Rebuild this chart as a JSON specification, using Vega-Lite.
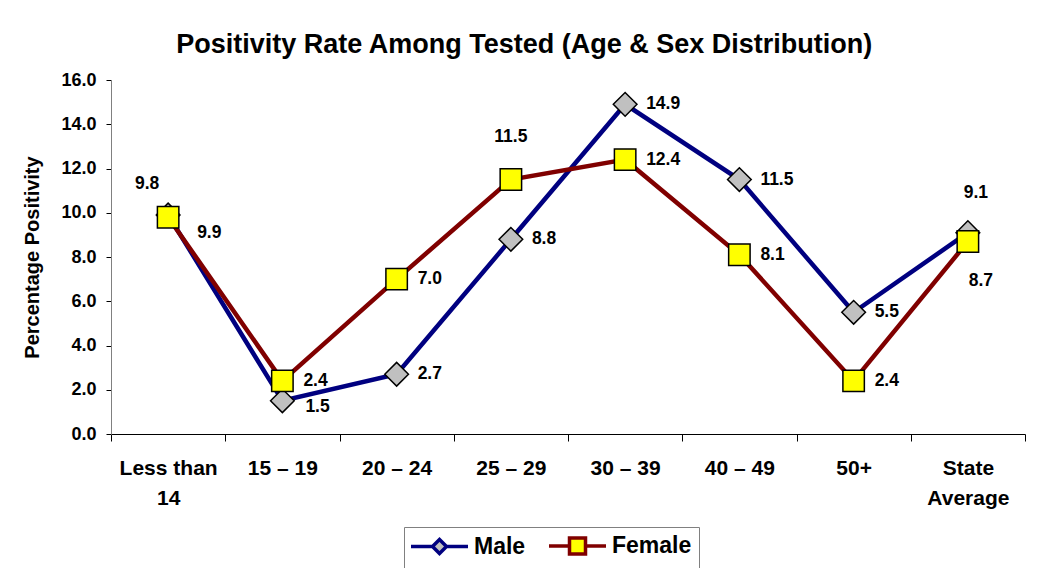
{
  "$schema": "https://vega.github.io/schema/vega-lite/v6.json",
  "width": 914,
  "height": 354,
  "padding": {"left": 22, "top": 31, "right": 10, "bottom": 0},
  "background": "white",
  "title": {"text": "Positivity Rate Among Tested (Age & Sex Distribution)", "font": "Liberation Sans", "fontSize": 27, "fontWeight": "bold", "anchor": "middle", "frame": "bounds", "offset": 12, "color": "black"},
  "data": {"values": [
    {"cat": "Less than 14", "series": "Male", "value": 9.9},
    {"cat": "15 – 19", "series": "Male", "value": 1.5},
    {"cat": "20 – 24", "series": "Male", "value": 2.7},
    {"cat": "25 – 29", "series": "Male", "value": 8.8},
    {"cat": "30 – 39", "series": "Male", "value": 14.9},
    {"cat": "40 – 49", "series": "Male", "value": 11.5},
    {"cat": "50+", "series": "Male", "value": 5.5},
    {"cat": "State Average", "series": "Male", "value": 9.1},
    {"cat": "Less than 14", "series": "Female", "value": 9.8},
    {"cat": "15 – 19", "series": "Female", "value": 2.4},
    {"cat": "20 – 24", "series": "Female", "value": 7.0},
    {"cat": "25 – 29", "series": "Female", "value": 11.5},
    {"cat": "30 – 39", "series": "Female", "value": 12.4},
    {"cat": "40 – 49", "series": "Female", "value": 8.1},
    {"cat": "50+", "series": "Female", "value": 2.4},
    {"cat": "State Average", "series": "Female", "value": 8.7}
  ]},
  "encoding": {
    "x": {"field": "cat", "type": "nominal", "sort": null,
      "scale": {"type": "band", "paddingInner": 0, "paddingOuter": 0},
      "axis": {"title": null, "labelAngle": 0, "labelFont": "Liberation Sans", "labelFontSize": 21, "labelFontWeight": "bold", "labelColor": "black", "labelPadding": 16, "labelLineHeight": 30,
        "labelExpr": "datum.label == 'Less than 14' ? ['Less than', '14'] : datum.label == 'State Average' ? ['State', 'Average'] : datum.label",
        "tickBand": "extent", "tickSize": 7, "tickColor": "black", "domainColor": "black", "grid": false}},
    "y": {"field": "value", "type": "quantitative",
      "scale": {"domain": [0, 16]},
      "axis": {"title": "Percentage Positivity", "titleFont": "Liberation Sans", "titleFontSize": 20, "titleFontWeight": "bold", "titleColor": "black", "titlePadding": 18,
        "labelFont": "Liberation Sans", "labelFontSize": 18, "labelFontWeight": "bold", "labelColor": "black", "labelPadding": 10,
        "values": [0, 2, 4, 6, 8, 10, 12, 14, 16], "format": ".1f", "tickSize": 5, "tickColor": "black", "domainColor": "#808080", "grid": false}}
  },
  "layer": [
    {"mark": {"type": "line", "strokeWidth": 4.5},
     "encoding": {"color": {"field": "series", "type": "nominal",
       "scale": {"domain": ["Male", "Female"], "range": ["#000080", "#800000"]},
       "legend": {"title": null, "orient": "none", "legendX": 293, "legendY": 447, "direction": "horizontal",
         "labelFont": "Liberation Sans", "labelFontSize": 23, "labelFontWeight": "bold", "labelColor": "black", "labelOffset": 39,
         "symbolSize": 400, "symbolStrokeWidth": 3.5, "strokeColor": "#808080", "fillColor": "white", "padding": 7, "columnPadding": 16,
         "encode": {"symbols": {"update": {
           "shape": {"signal": "datum.value == 'Male' ? 'M-1.2,0H0.95L1.65,-0.7L2.35,0L1.65,0.7L0.95,0M2.35,0H4.5' : 'M-1.2,0H0.85V-0.8H2.45V0.8H0.85V0M2.45,0H4.5'"},
           "fill": {"signal": "datum.value == 'Male' ? '#C0C0C0' : '#FFFF00'"},
           "opacity": {"value": 1}
         }}}}}}},
    {"transform": [{"filter": "datum.series == 'Male'"}],
     "mark": {"type": "point", "shape": "diamond", "filled": true, "fill": "#C0C0C0", "stroke": "black", "strokeWidth": 1.5, "opacity": 1, "size": 560}},
    {"transform": [{"filter": "datum.series == 'Female'"}],
     "mark": {"type": "point", "shape": "square", "filled": true, "fill": "#FFFF00", "stroke": "black", "strokeWidth": 1.5, "opacity": 1, "size": 460}},
    {"transform": [{"filter": "(datum.series == 'Male' && indexof(['20 – 24','25 – 29','30 – 39','40 – 49','50+'], datum.cat) >= 0) || (datum.series == 'Female' && indexof(['15 – 19','20 – 24','30 – 39','40 – 49','50+'], datum.cat) >= 0)"}],
     "mark": {"type": "text", "align": "left", "baseline": "middle", "dx": 21, "dy": 0, "font": "Liberation Sans", "fontSize": 17.5, "fontWeight": "bold", "color": "black"},
     "encoding": {"text": {"field": "value", "type": "quantitative", "format": ".1f"}}},
    {"transform": [{"filter": "datum.series == 'Male' && datum.cat == 'Less than 14'"}],
     "mark": {"type": "text", "align": "left", "baseline": "middle", "dx": 29, "dy": 18, "font": "Liberation Sans", "fontSize": 17.5, "fontWeight": "bold", "color": "black"},
     "encoding": {"text": {"field": "value", "type": "quantitative", "format": ".1f"}}},
    {"transform": [{"filter": "datum.series == 'Male' && datum.cat == '15 – 19'"}],
     "mark": {"type": "text", "align": "left", "baseline": "middle", "dx": 23, "dy": 6, "font": "Liberation Sans", "fontSize": 17.5, "fontWeight": "bold", "color": "black"},
     "encoding": {"text": {"field": "value", "type": "quantitative", "format": ".1f"}}},
    {"transform": [{"filter": "datum.series == 'Female' && datum.cat == 'Less than 14'"}],
     "mark": {"type": "text", "align": "center", "baseline": "middle", "dx": -21, "dy": -33, "font": "Liberation Sans", "fontSize": 17.5, "fontWeight": "bold", "color": "black"},
     "encoding": {"text": {"field": "value", "type": "quantitative", "format": ".1f"}}},
    {"transform": [{"filter": "datum.series == 'Female' && datum.cat == '25 – 29'"}],
     "mark": {"type": "text", "align": "center", "baseline": "middle", "dx": 0, "dy": -43, "font": "Liberation Sans", "fontSize": 17.5, "fontWeight": "bold", "color": "black"},
     "encoding": {"text": {"field": "value", "type": "quantitative", "format": ".1f"}}},
    {"transform": [{"filter": "datum.series == 'Male' && datum.cat == 'State Average'"}],
     "mark": {"type": "text", "align": "center", "baseline": "middle", "dx": 8, "dy": -40, "font": "Liberation Sans", "fontSize": 17.5, "fontWeight": "bold", "color": "black"},
     "encoding": {"text": {"field": "value", "type": "quantitative", "format": ".1f"}}},
    {"transform": [{"filter": "datum.series == 'Female' && datum.cat == 'State Average'"}],
     "mark": {"type": "text", "align": "center", "baseline": "middle", "dx": 13, "dy": 39, "font": "Liberation Sans", "fontSize": 17.5, "fontWeight": "bold", "color": "black"},
     "encoding": {"text": {"field": "value", "type": "quantitative", "format": ".1f"}}}
  ],
  "config": {"view": {"stroke": null}}
}
